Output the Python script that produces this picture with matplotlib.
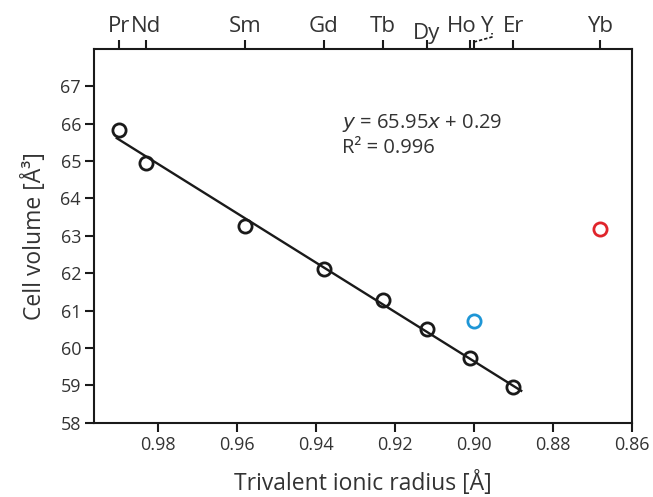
import matplotlib
matplotlib.use("Agg")
import matplotlib.pyplot as plt
import matplotlib.transforms as mtransforms
import numpy as np

plt.rcParams['font.family'] = ['Open Sans', 'DejaVu Sans']

# Data
elements = ["Pr", "Nd", "Sm", "Gd", "Tb", "Dy", "Ho", "Er"]
radius = [0.990, 0.983, 0.958, 0.938, 0.923, 0.912, 0.901, 0.890]
volume = [65.82, 64.96, 63.26, 62.12, 61.29, 60.52, 59.73, 58.95]
y_radius = [0.900]
y_volume = [60.72]
yb_radius = [0.868]
yb_volume = [63.17]
slope, intercept = 65.95, 0.29
top_labels = ["Pr", "Nd", "Sm", "Gd", "Tb", "Dy", "Ho", "Y", "Er", "Yb"]
top_ticks = [0.990, 0.983, 0.958, 0.938, 0.923, 0.912, 0.901, 0.900, 0.890, 0.868]
x_ticks = [0.98, 0.96, 0.94, 0.92, 0.90, 0.88, 0.86]
y_ticks = [58, 59, 60, 61, 62, 63, 64, 65, 66, 67]

W, H = 653, 497
fig = plt.figure(figsize=(W/100, H/100), dpi=100)
ax = fig.add_axes([94.3/W, 1-422.7/H, (631.7-94.3)/W, (422.7-49)/H])

TXT = '#333333'
INK = '#1a1a1a'

# Fit line
xl = np.array([max(radius) + 0.0005, min(radius) - 0.002])
ax.plot(xl, slope*xl + intercept, color=INK, lw=1.7, zorder=2)

ms = 9.5
ax.plot(radius, volume, 'o', ms=ms, mfc='none', mec=INK, mew=2.0, zorder=3)
ax.plot(y_radius, y_volume, 'o', ms=ms, mfc='none', mec='#1e96d6', mew=2.0, zorder=3)
ax.plot(yb_radius, yb_volume, 'o', ms=ms, mfc='none', mec='#e0242b', mew=2.0, zorder=3)

ax.set_xlim(0.9962, 0.86)
ax.set_ylim(58, 68)
ax.set_xticks(x_ticks)
ax.set_xticklabels([f"{v:.2f}" for v in x_ticks])
ax.set_yticks(y_ticks)

for s in ax.spines.values():
    s.set_linewidth(1.5)
    s.set_color(INK)

ax.tick_params(axis='both', direction='out', length=6.5, width=1.5, labelsize=13,
               color=INK, labelcolor=TXT, pad=3)

ax.set_xlabel("Trivalent ionic radius [Å]", fontsize=16.5, color=TXT, labelpad=12)
ax.set_ylabel("Cell volume [Å³]", fontsize=16.5, color=TXT, labelpad=10)

# Top axis with element labels
top = ax.twiny()
top.set_xlim(ax.get_xlim())
top.set_xticks(top_ticks)
top.set_xticklabels([""] * len(top_ticks))
top.tick_params(axis='x', direction='out', length=6.5, width=1.5, color=INK)
for s in top.spines.values():
    s.set_visible(False)

# x axis is inverted: positive offset moves a label left
label_offsets = {"Ho": 0.0021, "Y": -0.0031}
label_drop = {"Dy": 5}
for lab, t in zip(top_labels, top_ticks):
    xoff = label_offsets.get(lab, 0.0)
    dy = label_drop.get(lab, 0)
    top.annotate(lab, xy=(t + xoff, 1.0), xycoords=('data', 'axes fraction'),
                 xytext=(0, 12.5 - dy), textcoords='offset points',
                 ha='center', va='baseline', fontsize=16, color=TXT,
                 annotation_clip=False)
# dashed leader from the Y tick to its label
yt = top_ticks[top_labels.index("Y")]
tr = mtransforms.blended_transform_factory(top.transData, fig.transFigure)
lx = [yt, yt - 0.0046, yt - 0.0046]
ly = [1 - 42/H, 1 - 37/H, 1 - 33/H]
top.plot(lx, ly, transform=tr, ls=(0, (2, 1.2)), color=INK, lw=1.2, clip_on=False)

ax.text(0.461, 0.802, r"$\it{y}$ = 65.95$\it{x}$ + 0.29", transform=ax.transAxes,
        fontsize=14.5, color=TXT, ha='left', va='center')
ax.text(0.461, 0.735, "R² = 0.996", transform=ax.transAxes,
        fontsize=14.5, color=TXT, ha='left', va='center')

fig.savefig("out.png", dpi=100)
